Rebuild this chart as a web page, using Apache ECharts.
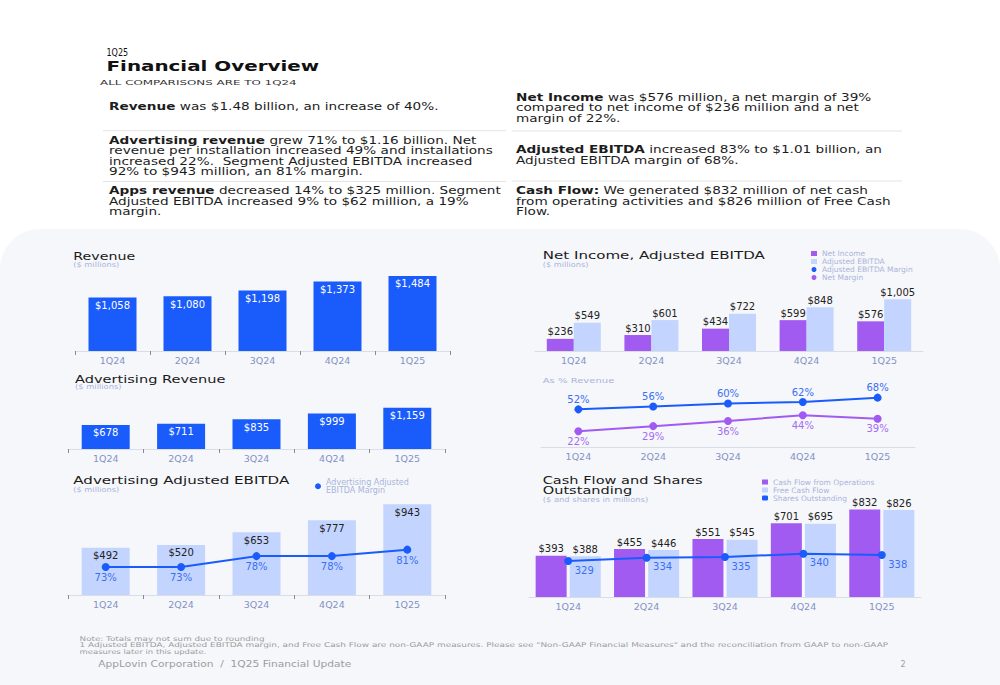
<!DOCTYPE html>
<html><head><meta charset="utf-8">
<script src="https://cdn.jsdelivr.net/npm/echarts@6/dist/echarts.min.js"></script>
<style>html,body{margin:0;padding:0;background:#fff}#c{width:1000px;height:685px}</style>
</head><body><div id="c"></div>
<script>
// ---------- data ----------
const quarters = ['1Q24', '2Q24', '3Q24', '4Q24', '1Q25'];
const revenue = [1058, 1080, 1198, 1373, 1484];
const advRevenue = [678, 711, 835, 999, 1159];
const advEbitda = [492, 520, 653, 777, 943];
const advEbitdaMargin = [73, 73, 78, 78, 81];
const netIncome = [236, 310, 434, 599, 576];
const adjEbitda = [549, 601, 722, 848, 1005];
const adjEbitdaMargin = [52, 56, 60, 62, 68];
const netMargin = [22, 29, 36, 44, 39];
const cashFlowOps = [393, 455, 551, 701, 832];
const freeCashFlow = [388, 446, 545, 695, 826];
const sharesOut = [329, 334, 335, 340, 338];

// ---------- styles ----------
const FONT = 'DejaVu Sans';
const BLUE = '#1a5cfb', LIGHT = '#c3d5ff', PURPLE = '#a25bf1';
const BLUE_TXT = '#3a6ef5', PURPLE_TXT = '#a46cf2';
const AXIS_TXT = '#8392c4', SUB_TXT = '#a9b4da', DARK = '#1c1c1c';

const mctx = document.createElement('canvas').getContext('2d');
function measure(text, size, weight) {
  mctx.font = (weight || 'normal') + ' ' + size + 'px "' + FONT + '"';
  return mctx.measureText(text).width;
}
function fitText(x, y, text, size, color, targetW, weight, sxOverride) {
  const sx = sxOverride || (targetW ? targetW / measure(text, size, weight) : 1);
  return {type: 'text', x: x, y: y, scaleX: sx, silent: true, z: 5,
    style: {text: text, x: 0, y: 0, fontSize: size, fontFamily: FONT, fontWeight: weight || 'normal',
      fill: color, align: 'left', verticalAlign: 'middle'}};
}
const BODY = 10.5, BLH = 10.5;
const bodyScale = 384 / measure('revenue per installation increased 49% and installations', BODY);
function body(x, yFirst, text) {
  return {type: 'text', x: x, y: yFirst - BLH / 2, scaleX: bodyScale, silent: true, z: 5,
    style: {text: text, x: 0, y: 0, fontSize: BODY, fontFamily: FONT, fill: DARK, lineHeight: BLH,
      align: 'left', verticalAlign: 'top',
      rich: {b: {fontWeight: 'bold', fontSize: BODY, fontFamily: FONT, fill: DARK, lineHeight: BLH}}}};
}
function sep(x1, x2, y) {
  return {type: 'line', silent: true, z: 5, shape: {x1: x1, y1: y, x2: x2, y2: y}, style: {stroke: '#e4e4e4', lineWidth: 1}};
}
const cfScale = 160 / measure('Cash Flow and Shares', 10.5);

const graphics = [
  {type: 'rect', z: -10, silent: true, shape: {x: 0, y: 229, width: 1000, height: 456, r: [40, 40, 0, 0]}, style: {fill: '#f6f7fb'}},
  fitText(106.5, 52.5, '1Q25', 10, '#111', 21.7),
  fitText(106.5, 66, 'Financial Overview', 13.5, '#111', 212.7, 'bold'),
  fitText(100, 82.5, 'ALL COMPARISONS ARE TO 1Q24', 6.5, '#333', 197),
  body(109, 107, '{b|Revenue} was $1.48 billion, an increase of 40%.'),
  body(109, 140.5, '{b|Advertising revenue} grew 71% to $1.16 billion. Net\nrevenue per installation increased 49% and installations\nincreased 22%.  Segment Adjusted EBITDA increased\n92% to $943 million, an 81% margin.'),
  body(109, 191, '{b|Apps revenue} decreased 14% to $325 million. Segment\nAdjusted EBITDA increased 9% to $62 million, a 19%\nmargin.'),
  body(516, 97.5, '{b|Net Income} was $576 million, a net margin of 39%\ncompared to net income of $236 million and a net\nmargin of 22%.'),
  body(516, 150, '{b|Adjusted EBITDA} increased 83% to $1.01 billion, an\nAdjusted EBITDA margin of 68%.'),
  body(516, 191, '{b|Cash Flow:} We generated $832 million of net cash\nfrom operating activities and $826 million of Free Cash\nFlow.'),
  sep(103, 506, 130.7), sep(103, 506, 181.5), sep(511.7, 902, 131), sep(511.7, 902, 181),
  // chart titles
  fitText(73.3, 256.3, 'Revenue', 10.5, '#1a1a1a', 62),
  fitText(73.3, 264.7, '($ millions)', 7, SUB_TXT, 46),
  fitText(75, 379, 'Advertising Revenue', 10.5, '#1a1a1a', 150.7),
  fitText(75, 387.2, '($ millions)', 7, SUB_TXT, 46.7),
  fitText(73.3, 480.3, 'Advertising Adjusted EBITDA', 10.5, '#1a1a1a', 216),
  fitText(73.3, 489.3, '($ millions)', 7, SUB_TXT, 46),
  fitText(542.7, 255.7, 'Net Income, Adjusted EBITDA', 10.5, '#1a1a1a', 222.3),
  fitText(542.7, 264.7, '($ millions)', 7, SUB_TXT, 45.7),
  fitText(542.7, 380.3, 'As % Revenue', 7.5, SUB_TXT, 71.7),
  fitText(542.7, 480.7, 'Cash Flow and Shares', 10.5, '#1a1a1a', 0, 'normal', cfScale),
  fitText(542.7, 490.7, 'Outstanding', 10.5, '#1a1a1a', 0, 'normal', cfScale),
  fitText(542.7, 499.7, '($ and shares in millions)', 7, SUB_TXT, 105.7),
  // footer
  fitText(79.6, 638.5, 'Note: Totals may not sum due to rounding', 6.5, '#9c9c9c', 185),
  fitText(79.6, 645.3, '1 Adjusted EBITDA, Adjusted EBITDA margin, and Free Cash Flow are non-GAAP measures. Please see "Non-GAAP Financial Measures" and the reconciliation from GAAP to non-GAAP', 6.5, '#9c9c9c', 809),
  fitText(79.6, 652, 'measures later in this update.', 6.5, '#9c9c9c', 127),
  fitText(98.2, 664, 'AppLovin Corporation  /  1Q25 Financial Update', 8, '#9c9c9c', 253.6),
  fitText(900.6, 664, '2', 8, '#9c9c9c', 0)
];

// ---------- axes ----------
function xAx(gi, ticks) {
  return {type: 'category', gridIndex: gi, data: quarters,
    axisLine: {lineStyle: {color: '#d9dde8', width: 1}},
    axisTick: {show: ticks, length: 4, lineStyle: {color: '#8a8a8a'}},
    axisLabel: {color: AXIS_TXT, fontSize: 9.5, fontFamily: FONT, margin: 4},
    splitLine: {show: false}};
}
function yAx(gi, min, max) {
  return {type: 'value', gridIndex: gi, min: min, max: max, show: false, splitLine: {show: false}};
}
const money = p => '$' + p.value.toLocaleString('en-US');
const pct = p => p.value + '%';
const lblIn = color => ({show: true, position: 'insideTop', distance: 3, color: color, fontSize: 10, fontFamily: FONT, formatter: money});
const lblTop = {show: true, position: 'top', distance: 2, color: '#222', fontSize: 10, fontFamily: FONT, formatter: money};

const legendText = {fontSize: 7.5, fontFamily: FONT, color: SUB_TXT};

const option = {
  animation: false,
  textStyle: {fontFamily: FONT},
  graphic: graphics,
  legend: [
    {selectedMode: false, left: 315, top: 478.5, padding: 0, itemWidth: 6, itemHeight: 6, itemGap: 0,
      textStyle: {fontSize: 8, fontFamily: FONT, color: SUB_TXT, lineHeight: 7.5},
      data: [{name: 'Advertising Adjusted EBITDA Margin', icon: 'circle'}],
      formatter: () => 'Advertising Adjusted\nEBITDA Margin'},
    {selectedMode: false, orient: 'vertical', left: 811, top: 249.5, padding: 0, itemWidth: 6, itemHeight: 5, itemGap: 0,
      textStyle: Object.assign({lineHeight: 7}, legendText),
      data: [{name: 'Net Income', icon: 'rect'}, {name: 'Adjusted EBITDA', icon: 'rect'},
             {name: 'Adjusted EBITDA Margin', icon: 'circle'}, {name: 'Net Margin', icon: 'circle'}]},
    {selectedMode: false, orient: 'vertical', left: 762, top: 478, padding: 0, itemWidth: 6, itemHeight: 5, itemGap: 0,
      textStyle: Object.assign({lineHeight: 7}, legendText),
      data: [{name: 'Cash Flow from Operations', icon: 'rect'}, {name: 'Free Cash Flow', icon: 'rect'},
             {name: 'Shares Outstanding', icon: 'roundRect'}]}
  ],
  grid: [
    {left: 75, top: 265, width: 375, height: 86},
    {left: 68, top: 401, width: 377, height: 48},
    {left: 68, top: 497.8, width: 377, height: 97.2},
    {left: 535, top: 279.9, width: 388, height: 71.1},
    {left: 541, top: 374.3, width: 374, height: 73},
    {left: 529, top: 497, width: 392, height: 100}
  ],
  xAxis: [xAx(0, true), xAx(1, true), xAx(2, true), xAx(3, false), xAx(4, false), xAx(5, false)],
  yAxis: [yAx(0, 0, 1700), yAx(1, 0, 1350), yAx(2, 0, 1010), yAx(2, 60, 105),
          yAx(3, 0, 1380), yAx(4, 0, 100), yAx(5, 0, 950), yAx(5, 275, 425)],
  series: [
    {name: 'Revenue', type: 'bar', xAxisIndex: 0, yAxisIndex: 0, data: revenue, barWidth: 48,
      itemStyle: {color: BLUE}, label: lblIn('#fff')},
    {name: 'Advertising Revenue', type: 'bar', xAxisIndex: 1, yAxisIndex: 1, data: advRevenue, barWidth: 48,
      itemStyle: {color: BLUE}, label: lblIn('#fff')},
    {name: 'Advertising Adjusted EBITDA', type: 'bar', xAxisIndex: 2, yAxisIndex: 2, data: advEbitda, barWidth: 48,
      itemStyle: {color: LIGHT}, label: lblIn('#222')},
    {name: 'Advertising Adjusted EBITDA Margin', type: 'line', xAxisIndex: 2, yAxisIndex: 3, data: advEbitdaMargin,
      symbol: 'circle', symbolSize: 8, itemStyle: {color: BLUE}, lineStyle: {color: BLUE, width: 2},
      label: {show: true, position: 'bottom', distance: 1.5, color: BLUE_TXT, fontSize: 10, fontFamily: FONT, formatter: pct}},
    {name: 'Net Income', type: 'bar', xAxisIndex: 3, yAxisIndex: 4, data: netIncome, barWidth: 27, barGap: '0%',
      itemStyle: {color: PURPLE}, label: lblTop},
    {name: 'Adjusted EBITDA', type: 'bar', xAxisIndex: 3, yAxisIndex: 4, data: adjEbitda, barWidth: 27, barGap: '0%',
      itemStyle: {color: LIGHT}, label: lblTop},
    {name: 'Adjusted EBITDA Margin', type: 'line', xAxisIndex: 4, yAxisIndex: 5, data: adjEbitdaMargin,
      symbol: 'circle', symbolSize: 8, itemStyle: {color: BLUE}, lineStyle: {color: BLUE, width: 2},
      label: {show: true, position: 'top', distance: 1, color: BLUE_TXT, fontSize: 10, fontFamily: FONT, formatter: pct}},
    {name: 'Net Margin', type: 'line', xAxisIndex: 4, yAxisIndex: 5, data: netMargin,
      symbol: 'circle', symbolSize: 8, itemStyle: {color: PURPLE}, lineStyle: {color: PURPLE, width: 2},
      label: {show: true, position: 'bottom', distance: 1, color: PURPLE_TXT, fontSize: 10, fontFamily: FONT, formatter: pct}},
    {name: 'Cash Flow from Operations', type: 'bar', xAxisIndex: 5, yAxisIndex: 6, data: cashFlowOps, barWidth: 31, barGap: '10%',
      itemStyle: {color: PURPLE}, label: lblTop},
    {name: 'Free Cash Flow', type: 'bar', xAxisIndex: 5, yAxisIndex: 6, data: freeCashFlow, barWidth: 31, barGap: '10%',
      itemStyle: {color: LIGHT}, label: lblTop},
    {name: 'Shares Outstanding', type: 'line', xAxisIndex: 5, yAxisIndex: 7, data: sharesOut,
      symbol: 'circle', symbolSize: 8, itemStyle: {color: BLUE}, lineStyle: {color: BLUE, width: 2},
      label: {show: true, position: 'bottom', distance: 0, offset: [16, 0], color: BLUE_TXT, fontSize: 10, fontFamily: FONT}}
  ]
};

const chart = echarts.init(document.getElementById('c'), null, {renderer: 'svg'});
chart.setOption(option);
</script>
</body></html>
